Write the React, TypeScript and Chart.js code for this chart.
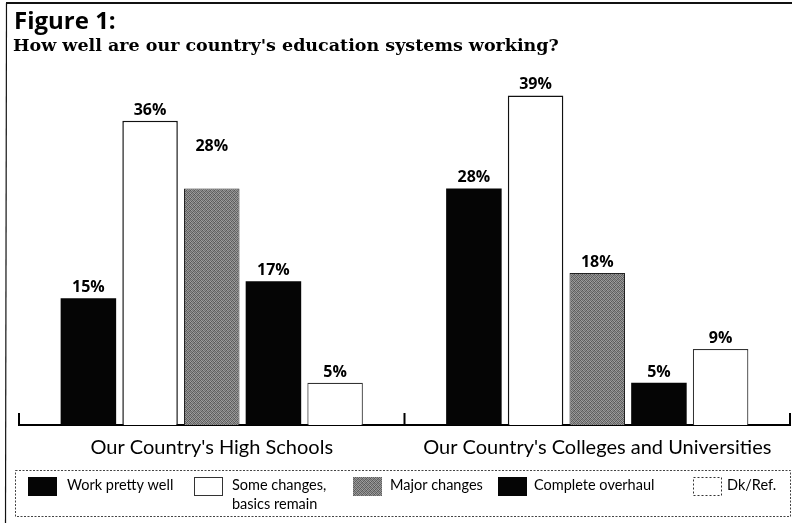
import React, { useEffect, useRef } from "react";
import { Chart, registerables } from "chart.js";

Chart.register(...registerables);

const titleText = "Figure 1:";
const subtitleText = "How well are our country's education systems working?";
const categories = ["Our Country's High Schools", "Our Country's Colleges and Universities"];
const seriesLabels = [
  "Work pretty well",
  "Some changes,\nbasics remain",
  "Major changes",
  "Complete overhaul",
  "Dk/Ref.",
];
const workPrettyWell = [15, 28];
const someChanges = [36, 39];
const majorChanges = [28, 18];
const completeOverhaul = [17, 5];
const dkRef = [5, 9];
const yMax = 40;

function makeGreyPattern(): CanvasPattern | string {
  const c = document.createElement("canvas");
  c.width = 4;
  c.height = 4;
  const g = c.getContext("2d");
  if (!g) return "#777";
  const shades = [
    [0x5c, 0x9c, 0x70, 0x90],
    [0x94, 0x64, 0xa4, 0x5a],
    [0x74, 0x8e, 0x58, 0x9e],
    [0x98, 0x5e, 0x88, 0x6a],
  ];
  for (let y = 0; y < 4; y++) {
    for (let x = 0; x < 4; x++) {
      const v = shades[y][x];
      g.fillStyle = `rgb(${v},${v},${v})`;
      g.fillRect(x, y, 1, 1);
    }
  }
  const ctx = document.createElement("canvas").getContext("2d");
  return (ctx && ctx.createPattern(c, "repeat")) || "#777";
}

export default function App() {
  const ref = useRef<HTMLCanvasElement | null>(null);

  useEffect(() => {
    const canvas = ref.current;
    if (!canvas) return;
    const grey = makeGreyPattern();

    const framePlugin = {
      id: "frame",
      beforeDraw(chart: any) {
        const ctx = chart.ctx;
        ctx.save();
        ctx.fillStyle = "#fff";
        ctx.fillRect(0, 0, chart.width, chart.height);
        ctx.strokeStyle = "#111";
        ctx.lineWidth = 2;
        ctx.beginPath();
        ctx.moveTo(6, 3);
        ctx.lineTo(chart.width, 3);
        ctx.stroke();
        ctx.lineWidth = 1.2;
        ctx.beginPath();
        ctx.moveTo(6.5, 3);
        ctx.lineTo(5.5, chart.height);
        ctx.stroke();
        // titles
        ctx.fillStyle = "#000";
        ctx.textAlign = "left";
        ctx.textBaseline = "alphabetic";
        ctx.font = "bold 24px 'Open Sans'";
        ctx.fillText(titleText, 14, 29);
        ctx.font = "bold 17.5px 'DejaVu Serif'";
        ctx.fillText(subtitleText, 13, 51);
        ctx.restore();
      },
    };

    const ticksPlugin = {
      id: "upticks",
      afterDraw(chart: any) {
        const xs = chart.scales.x;
        const ctx = chart.ctx;
        const bottom = chart.chartArea.bottom;
        const n = chart.data.labels.length;
        const pts: number[] = [xs.left];
        for (let i = 0; i < n - 1; i++) {
          pts.push((xs.getPixelForValue(i) + xs.getPixelForValue(i + 1)) / 2);
        }
        pts.push(xs.right);
        ctx.save();
        ctx.strokeStyle = "#000";
        ctx.lineWidth = 2;
        pts.forEach((p) => {
          ctx.beginPath();
          ctx.moveTo(p, bottom - 12);
          ctx.lineTo(p, bottom + 1);
          ctx.stroke();
        });
        ctx.restore();
      },
    };

    const valuePlugin = {
      id: "values",
      afterDatasetsDraw(chart: any) {
        const ctx = chart.ctx;
        ctx.save();
        ctx.fillStyle = "#000";
        ctx.font = "bold 16px 'Open Sans'";
        ctx.textAlign = "center";
        ctx.textBaseline = "alphabetic";
        chart.data.datasets.forEach((ds: any, di: number) => {
          const meta = chart.getDatasetMeta(di);
          meta.data.forEach((bar: any, i: number) => {
            const lift = di === 2 && i === 0 ? 31 : 0;
            ctx.fillText(`${ds.data[i]}%`, bar.x, bar.y - 6 - lift);
          });
        });
        ctx.restore();
      },
    };

    const legendPlugin = {
      id: "boxLegend",
      afterDraw(chart: any) {
        const ctx = chart.ctx;
        const swatchX = [28, 194, 353, 498, 693];
        const textX = [67, 232, 390, 534, 727];
        ctx.save();
        ctx.strokeStyle = "#444";
        ctx.lineWidth = 1;
        ctx.setLineDash([2, 1.5]);
        ctx.strokeRect(15.5, 470.5, 775, 46);
        chart.data.datasets.forEach((ds: any, i: number) => {
          const x = swatchX[i];
          const y = 477;
          ctx.setLineDash(i === 4 ? [2, 2] : []);
          ctx.fillStyle = ds.backgroundColor;
          ctx.fillRect(x, y, 29, 19);
          if (i === 1 || i === 4) {
            ctx.strokeStyle = "#333";
            ctx.lineWidth = 1;
            ctx.strokeRect(x + 0.5, y + 0.5, 28, 18);
          }
          ctx.setLineDash([]);
          ctx.fillStyle = "#000";
          ctx.font = "14.5px Lato";
          ctx.textAlign = "left";
          ctx.textBaseline = "middle";
          String(ds.label)
            .split("\n")
            .forEach((line: string, li: number) => {
              ctx.fillText(line, textX[i], 485 + li * 19);
            });
        });
        ctx.restore();
      },
    };

    const chart = new Chart(canvas, {
      type: "bar",
      data: {
        labels: categories,
        datasets: [
          { label: seriesLabels[0], data: workPrettyWell, backgroundColor: "#050505", borderWidth: 0 },
          { label: seriesLabels[1], data: someChanges, backgroundColor: "#ffffff", borderColor: "#111", borderWidth: 1.5 },
          { label: seriesLabels[2], data: majorChanges, backgroundColor: grey as any, borderColor: "#222", borderWidth: 1 },
          { label: seriesLabels[3], data: completeOverhaul, backgroundColor: "#050505", borderWidth: 0 },
          { label: seriesLabels[4], data: dkRef, backgroundColor: "#ffffff", borderColor: "#333", borderWidth: 1.2 },
        ],
      },
      options: {
        responsive: false,
        animation: false,
        devicePixelRatio: 1,
        layout: { padding: { left: 19, right: 2, top: 87, bottom: 0 } },
        plugins: {
          legend: { display: false },
          title: { display: false },
          tooltip: { enabled: false },
        },
        scales: {
          x: {
            grid: { display: false, drawTicks: false },
            border: { display: true, color: "#000", width: 2 },
            ticks: { color: "#000", font: { family: "Lato", size: 20 }, padding: 11 },
            afterFit: (scale: any) => {
              scale.height = 98;
            },
          },
          y: { display: false, min: 0, max: yMax },
        },
      },
      plugins: [framePlugin, ticksPlugin, valuePlugin, legendPlugin],
    });

    return () => chart.destroy();
  }, []);

  return (
    <div style={{ position: "fixed", left: 0, top: 0, width: 792, height: 523, background: "#fff" }}>
      <canvas ref={ref} width={792} height={523} style={{ display: "block" }} />
    </div>
  );
}
